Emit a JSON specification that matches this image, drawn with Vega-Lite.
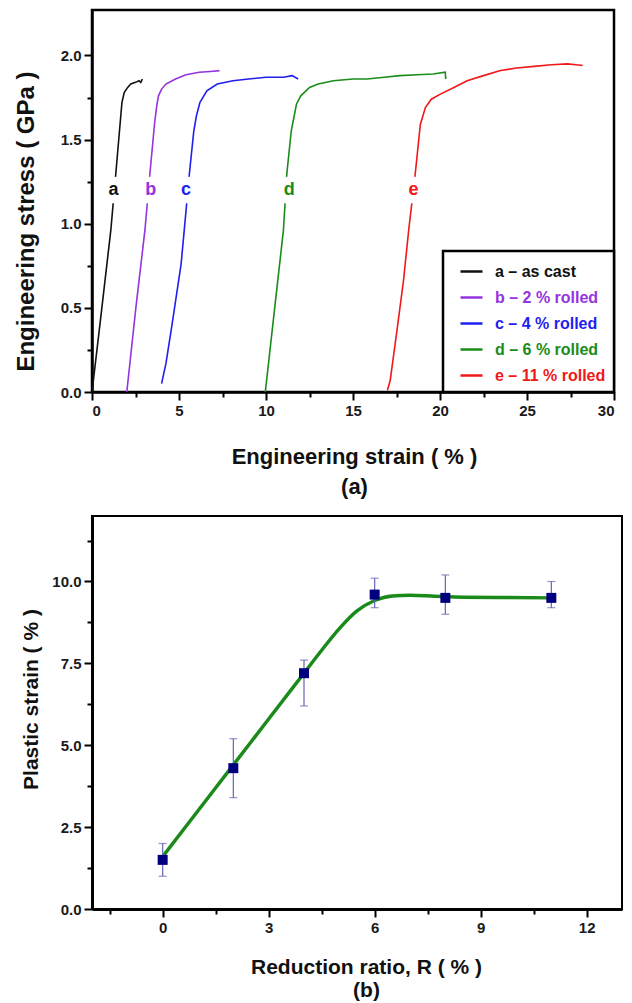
{
  "$schema": "https://vega.github.io/schema/vega-lite/v6.json",
  "background": "white",
  "padding": {"top": 8, "left": 12, "right": 2, "bottom": 0},
  "bounds": "flush",
  "spacing": 124,
  "resolve": {"scale": {"x": "independent", "y": "independent", "color": "independent"}, "legend": {"color": "independent"}},
  "config": {
    "font": "Liberation Sans",
    "axis": {
      "grid": false, "domainColor": "black", "domainWidth": 2.5, "tickColor": "black", "tickWidth": 2,
      "labelFont": "Liberation Sans", "labelFontSize": 15, "labelFontWeight": "bold", "labelColor": "#1a1a1a", "labelPadding": 3,
      "titleFont": "Liberation Sans", "titleFontWeight": "bold", "titleColor": "#111111"
    }
  },
  "datasets": {
    "curves": [
      {"s": "a – as cast", "x": 0, "y": 0}, {"s": "a – as cast", "x": 0.5, "y": 0.44}, {"s": "a – as cast", "x": 1.08, "y": 0.96}, {"s": "a – as cast", "x": 1.37, "y": 1.3}, {"s": "a – as cast", "x": 1.72, "y": 1.72}, {"s": "a – as cast", "x": 1.85, "y": 1.78}, {"s": "a – as cast", "x": 2.05, "y": 1.81}, {"s": "a – as cast", "x": 2.23, "y": 1.83}, {"s": "a – as cast", "x": 2.5, "y": 1.84}, {"s": "a – as cast", "x": 2.7, "y": 1.85}, {"s": "a – as cast", "x": 2.8, "y": 1.84}, {"s": "a – as cast", "x": 2.9, "y": 1.86},
      {"s": "b – 2 % rolled", "x": 2.0, "y": 0}, {"s": "b – 2 % rolled", "x": 2.52, "y": 0.5}, {"s": "b – 2 % rolled", "x": 3.04, "y": 0.96}, {"s": "b – 2 % rolled", "x": 3.33, "y": 1.3}, {"s": "b – 2 % rolled", "x": 3.6, "y": 1.6}, {"s": "b – 2 % rolled", "x": 3.72, "y": 1.7}, {"s": "b – 2 % rolled", "x": 3.82, "y": 1.76}, {"s": "b – 2 % rolled", "x": 4.0, "y": 1.8}, {"s": "b – 2 % rolled", "x": 4.25, "y": 1.83}, {"s": "b – 2 % rolled", "x": 4.8, "y": 1.86}, {"s": "b – 2 % rolled", "x": 5.4, "y": 1.885}, {"s": "b – 2 % rolled", "x": 6.17, "y": 1.9}, {"s": "b – 2 % rolled", "x": 6.8, "y": 1.905}, {"s": "b – 2 % rolled", "x": 7.33, "y": 1.91},
      {"s": "c – 4 % rolled", "x": 4.0, "y": 0.05}, {"s": "c – 4 % rolled", "x": 4.25, "y": 0.17}, {"s": "c – 4 % rolled", "x": 4.54, "y": 0.36}, {"s": "c – 4 % rolled", "x": 4.83, "y": 0.56}, {"s": "c – 4 % rolled", "x": 5.12, "y": 0.76}, {"s": "c – 4 % rolled", "x": 5.3, "y": 0.96}, {"s": "c – 4 % rolled", "x": 5.6, "y": 1.3}, {"s": "c – 4 % rolled", "x": 5.85, "y": 1.55}, {"s": "c – 4 % rolled", "x": 6.0, "y": 1.64}, {"s": "c – 4 % rolled", "x": 6.2, "y": 1.72}, {"s": "c – 4 % rolled", "x": 6.6, "y": 1.79}, {"s": "c – 4 % rolled", "x": 7.2, "y": 1.83}, {"s": "c – 4 % rolled", "x": 8.1, "y": 1.85}, {"s": "c – 4 % rolled", "x": 9.0, "y": 1.86}, {"s": "c – 4 % rolled", "x": 10.0, "y": 1.87}, {"s": "c – 4 % rolled", "x": 11.0, "y": 1.87}, {"s": "c – 4 % rolled", "x": 11.5, "y": 1.88}, {"s": "c – 4 % rolled", "x": 11.85, "y": 1.86},
      {"s": "d – 6 % rolled", "x": 9.96, "y": 0}, {"s": "d – 6 % rolled", "x": 10.5, "y": 0.5}, {"s": "d – 6 % rolled", "x": 11.0, "y": 0.96}, {"s": "d – 6 % rolled", "x": 11.2, "y": 1.3}, {"s": "d – 6 % rolled", "x": 11.45, "y": 1.55}, {"s": "d – 6 % rolled", "x": 11.75, "y": 1.71}, {"s": "d – 6 % rolled", "x": 12.0, "y": 1.76}, {"s": "d – 6 % rolled", "x": 12.5, "y": 1.81}, {"s": "d – 6 % rolled", "x": 13.0, "y": 1.83}, {"s": "d – 6 % rolled", "x": 13.87, "y": 1.85}, {"s": "d – 6 % rolled", "x": 15.0, "y": 1.86}, {"s": "d – 6 % rolled", "x": 15.8, "y": 1.86}, {"s": "d – 6 % rolled", "x": 16.8, "y": 1.87}, {"s": "d – 6 % rolled", "x": 17.7, "y": 1.88}, {"s": "d – 6 % rolled", "x": 18.7, "y": 1.885}, {"s": "d – 6 % rolled", "x": 19.6, "y": 1.89}, {"s": "d – 6 % rolled", "x": 20.3, "y": 1.9}, {"s": "d – 6 % rolled", "x": 20.33, "y": 1.86},
      {"s": "e – 11 % rolled", "x": 16.98, "y": 0.01}, {"s": "e – 11 % rolled", "x": 17.14, "y": 0.07}, {"s": "e – 11 % rolled", "x": 17.52, "y": 0.36}, {"s": "e – 11 % rolled", "x": 17.9, "y": 0.66}, {"s": "e – 11 % rolled", "x": 18.2, "y": 0.96}, {"s": "e – 11 % rolled", "x": 18.58, "y": 1.3}, {"s": "e – 11 % rolled", "x": 18.87, "y": 1.59}, {"s": "e – 11 % rolled", "x": 19.16, "y": 1.69}, {"s": "e – 11 % rolled", "x": 19.5, "y": 1.74}, {"s": "e – 11 % rolled", "x": 20.02, "y": 1.77}, {"s": "e – 11 % rolled", "x": 20.8, "y": 1.81}, {"s": "e – 11 % rolled", "x": 21.56, "y": 1.85}, {"s": "e – 11 % rolled", "x": 22.5, "y": 1.88}, {"s": "e – 11 % rolled", "x": 23.48, "y": 1.91}, {"s": "e – 11 % rolled", "x": 24.4, "y": 1.925}, {"s": "e – 11 % rolled", "x": 25.4, "y": 1.935}, {"s": "e – 11 % rolled", "x": 26.4, "y": 1.945}, {"s": "e – 11 % rolled", "x": 27.33, "y": 1.95}, {"s": "e – 11 % rolled", "x": 27.8, "y": 1.945}, {"s": "e – 11 % rolled", "x": 28.2, "y": 1.94}
    ],
    "labels": [
      {"s": "a – as cast", "t": "a", "x": 1.23, "y": 1.2},
      {"s": "b – 2 % rolled", "t": "b", "x": 3.38, "y": 1.2},
      {"s": "c – 4 % rolled", "t": "c", "x": 5.4, "y": 1.2},
      {"s": "d – 6 % rolled", "t": "d", "x": 11.33, "y": 1.2},
      {"s": "e – 11 % rolled", "t": "e", "x": 18.48, "y": 1.2}
    ],
    "pts": [
      {"r": 0, "v": 1.5, "lo": 1.0, "hi": 2.0},
      {"r": 2, "v": 4.3, "lo": 3.4, "hi": 5.2},
      {"r": 4, "v": 7.2, "lo": 6.2, "hi": 7.6},
      {"r": 6, "v": 9.6, "lo": 9.2, "hi": 10.1},
      {"r": 8, "v": 9.5, "lo": 9.0, "hi": 10.2},
      {"r": 11, "v": 9.5, "lo": 9.2, "hi": 10.0}
    ],
    "fit": [
      {"r": 0, "v": 1.6}, {"r": 1, "v": 3.0}, {"r": 2, "v": 4.4}, {"r": 3, "v": 5.8}, {"r": 4, "v": 7.2}, {"r": 4.5, "v": 7.9}, {"r": 5, "v": 8.56}, {"r": 5.5, "v": 9.1}, {"r": 6, "v": 9.42}, {"r": 6.5, "v": 9.56}, {"r": 7, "v": 9.58}, {"r": 7.7, "v": 9.55}, {"r": 8.5, "v": 9.52}, {"r": 9.5, "v": 9.51}, {"r": 11, "v": 9.5}
    ]
  },
  "vconcat": [
    {
      "width": 522,
      "height": 382,
      "view": {"stroke": "black", "strokeWidth": 2.5},
      "layer": [
        {
          "data": {"name": "curves"},
          "mark": {"type": "line", "strokeWidth": 1.6, "clip": true},
          "encoding": {
            "x": {
              "field": "x", "type": "quantitative",
              "scale": {"domain": [0, 30], "nice": false, "zero": false},
              "axis": {
                "values": [0, 2.5, 5, 7.5, 10, 12.5, 15, 17.5, 20, 22.5, 25, 27.5, 30],
                "labelExpr": "datum.value % 5 === 0 ? datum.label : ''",
                "tickSize": {"condition": {"test": "datum.value % 5 === 0", "value": 8}, "value": 5},
                "title": ["Engineering strain ( % )", "(a)"],
                "titleFontSize": 22, "titleLineHeight": 30, "titleBaseline": "top", "titleAlign": "center",
                "titleX": 262, "titleY": 54
              }
            },
            "y": {
              "field": "y", "type": "quantitative",
              "scale": {"domain": [0, 2.27], "nice": false, "zero": false},
              "axis": {
                "values": [0, 0.25, 0.5, 0.75, 1, 1.25, 1.5, 1.75, 2],
                "format": ".1f",
                "labelExpr": "(datum.value * 4) % 2 === 0 ? datum.label : ''",
                "tickSize": {"condition": {"test": "(datum.value * 4) % 2 === 0", "value": 8}, "value": 5},
                "title": "Engineering stress ( GPa )",
                "titleFontSize": 24, "titleBaseline": "middle", "titleAlign": "center",
                "titleX": -66, "titleY": 211
              }
            },
            "color": {
              "field": "s", "type": "nominal",
              "scale": {
                "domain": ["a – as cast", "b – 2 % rolled", "c – 4 % rolled", "d – 6 % rolled", "e – 11 % rolled"],
                "range": ["#111111", "#9433e0", "#1f1ff0", "#1a8c1a", "#f01818"]
              },
              "legend": {
                "title": null, "orient": "bottom-right", "offset": 0,
                "symbolType": "stroke", "symbolSize": 484, "symbolStrokeWidth": 2.5,
                "labelFont": "Liberation Sans", "labelFontSize": 16, "labelFontWeight": "bold",
                "labelOffset": 11, "padding": 8, "symbolOffset": 8, "rowPadding": 5,
                "strokeColor": "black", "fillColor": "white", "labelLimit": 300,
                "encode": {
                  "labels": {"update": {"fill": {"signal": "indexof(['a – as cast','b – 2 % rolled','c – 4 % rolled','d – 6 % rolled','e – 11 % rolled'], datum.value) === 0 ? '#111111' : indexof(['a – as cast','b – 2 % rolled','c – 4 % rolled','d – 6 % rolled','e – 11 % rolled'], datum.value) === 1 ? '#9433e0' : indexof(['a – as cast','b – 2 % rolled','c – 4 % rolled','d – 6 % rolled','e – 11 % rolled'], datum.value) === 2 ? '#1f1ff0' : indexof(['a – as cast','b – 2 % rolled','c – 4 % rolled','d – 6 % rolled','e – 11 % rolled'], datum.value) === 3 ? '#1a8c1a' : '#f01818'"}}},
                  "legend": {"update": {"strokeWidth": {"value": 2.5}}}
                }
              }
            }
          }
        },
        {
          "data": {"name": "labels"},
          "mark": {"type": "point", "shape": "square", "filled": true, "color": "white", "opacity": 1, "size": 700},
          "encoding": {
            "x": {"field": "x", "type": "quantitative"},
            "y": {"field": "y", "type": "quantitative"}
          }
        },
        {
          "data": {"name": "labels"},
          "mark": {"type": "text", "fontSize": 18, "fontWeight": "bold", "font": "Liberation Sans", "baseline": "middle", "align": "center"},
          "encoding": {
            "x": {"field": "x", "type": "quantitative"},
            "y": {"field": "y", "type": "quantitative"},
            "text": {"field": "t"},
            "color": {"field": "s", "type": "nominal"}
          }
        }
      ]
    },
    {
      "width": 530,
      "height": 393,
      "view": {"stroke": "black", "strokeWidth": 2},
      "layer": [
        {
          "data": {"name": "fit"},
          "mark": {"type": "line", "interpolate": "monotone", "strokeWidth": 3.5, "color": "#1a8a1a"},
          "encoding": {
            "x": {
              "field": "r", "type": "quantitative",
              "scale": {"domain": [-2, 13], "nice": false, "zero": false},
              "axis": {
                "values": [-1.5, 0, 1.5, 3, 4.5, 6, 7.5, 9, 10.5, 12],
                "labelExpr": "datum.value % 3 === 0 ? datum.label : ''",
                "tickSize": {"condition": {"test": "datum.value % 3 === 0", "value": 8}, "value": 5},
                "domainWidth": 3,
                "title": ["Reduction ratio, R ( % )", "(b)"],
                "titleFontSize": 21, "titleLineHeight": 23, "titleBaseline": "top", "titleAlign": "center",
                "titleX": 274, "titleY": 47
              }
            },
            "y": {
              "field": "v", "type": "quantitative",
              "scale": {"domain": [0, 12], "nice": false, "zero": false},
              "axis": {
                "values": [0, 1.25, 2.5, 3.75, 5, 6.25, 7.5, 8.75, 10, 11.25],
                "format": ".1f",
                "labelExpr": "datum.value % 2.5 === 0 ? datum.label : ''",
                "tickSize": {"condition": {"test": "datum.value % 2.5 === 0", "value": 8}, "value": 5},
                "domainWidth": 3,
                "title": "Plastic strain ( % )",
                "titleFontSize": 21, "titleBaseline": "middle", "titleAlign": "center",
                "titleX": -61, "titleY": 183
              }
            }
          }
        },
        {
          "data": {"name": "pts"},
          "mark": {"type": "rule", "strokeWidth": 1.2, "color": "#6464b4"},
          "encoding": {"x": {"field": "r", "type": "quantitative"}, "y": {"field": "lo", "type": "quantitative"}, "y2": {"field": "hi"}}
        },
        {
          "data": {"name": "pts"},
          "mark": {"type": "tick", "orient": "horizontal", "size": 8, "thickness": 1.2, "color": "#6464b4"},
          "encoding": {"x": {"field": "r", "type": "quantitative"}, "y": {"field": "lo", "type": "quantitative"}}
        },
        {
          "data": {"name": "pts"},
          "mark": {"type": "tick", "orient": "horizontal", "size": 8, "thickness": 1.2, "color": "#6464b4"},
          "encoding": {"x": {"field": "r", "type": "quantitative"}, "y": {"field": "hi", "type": "quantitative"}}
        },
        {
          "data": {"name": "pts"},
          "mark": {"type": "point", "shape": "square", "filled": true, "color": "#00007f", "opacity": 1, "size": 100},
          "encoding": {"x": {"field": "r", "type": "quantitative"}, "y": {"field": "v", "type": "quantitative"}}
        }
      ]
    }
  ]
}
